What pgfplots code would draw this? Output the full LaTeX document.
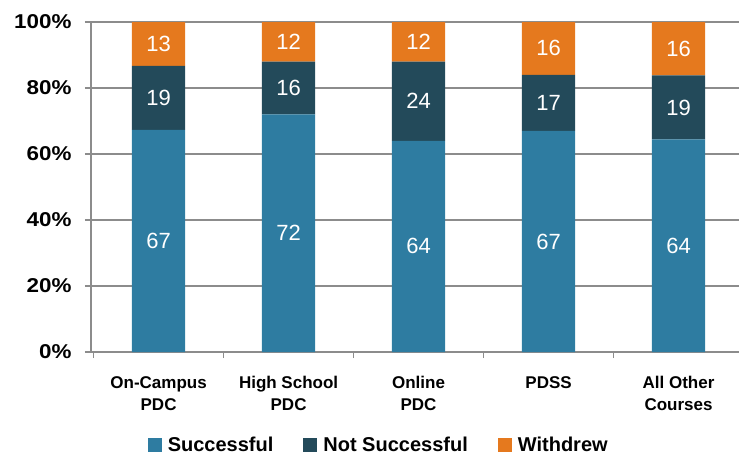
\documentclass[border=0pt]{standalone}
\usepackage{pgfplots}
\pgfplotsset{compat=1.18}
\usepackage{pgfplotstable}
\usepackage{fontspec}
\setmainfont{Liberation Sans}
\newfontfamily\tickfont[FakeStretch=1.12]{Liberation Sans Bold}
\newfontfamily\boldfont{Liberation Sans Bold}
\definecolor{cS}{HTML}{2E7CA1}
\definecolor{cN}{HTML}{234A5A}
\definecolor{cW}{HTML}{E5791E}
\definecolor{cG}{HTML}{8C8C8C}
\pgfplotstableread{
x s n w
0 67.3 19.4 13.3
1 72 16 12
2 64 24 12
3 67 17 16
4 64.4 19.4 16.2
}\data
\begin{document}
\begin{tikzpicture}
\useasboundingbox (0,0) rectangle (739pt,456pt);
\begin{axis}[
  at={(91pt,104pt)}, anchor=south west,
  scale only axis, width=648pt, height=330pt,
  ybar stacked, bar width=0.41,
  xmin=-0.52, xmax=4.465, ymin=0, ymax=100,
  axis x line*=bottom, axis y line*=left,
  axis line style={cG, line width=2pt, -},
  ytick={0,20,...,100},
  yticklabels={0\%,20\%,40\%,60\%,80\%,100\%},
  ymajorgrids, major grid style={cG, line width=2pt},
  tick align=outside,
  major tick length=6pt, minor tick length=6pt,
  y tick style={cG, line width=2pt},
  xtick={0,1,2,3,4},
  xticklabels={On-Campus\\PDC, High School\\PDC, Online\\PDC, PDSS, All Other\\Courses},
  major x tick style={draw=none},
  minor xtick={-0.5,0.5,1.5,2.5,3.5},
  minor x tick style={cG, line width=1.5pt},
  yticklabel style={font=\tickfont\fontsize{20}{24}\selectfont, text=black, xshift=-10pt},
  xticklabel style={font=\boldfont\fontsize{17}{22}\selectfont, align=center, text=black, anchor=north, yshift=-15pt},
  nodes near coords={\pgfmathprintnumber[fixed,precision=0,assume math mode=true]{\pgfplotspointmeta}},
  every node near coord/.append style={text=white, font=\fontsize{22}{26}\selectfont, anchor=center},
  legend columns=3,
  legend style={at={(0.444,-0.282)}, anchor=center, draw=none, fill=none,
    font=\boldfont\fontsize{20}{24}\selectfont, inner sep=0pt,
    /tikz/every even column/.append style={column sep=28pt},
    /tikz/every odd column/.append style={column sep=4pt},
    nodes={inner sep=2pt}},
  legend image code/.code={\fill[#1] (0pt,-7pt) rectangle (14pt,7pt);},
]
\addplot[fill=cS, draw=none] table[x=x, y=s] {\data};
\addplot[fill=cN, draw=none] table[x=x, y=n] {\data};
\addplot[fill=cW, draw=none] table[x=x, y=w] {\data};
\legend{Successful, Not Successful, Withdrew}
\end{axis}
\end{tikzpicture}
\end{document}
